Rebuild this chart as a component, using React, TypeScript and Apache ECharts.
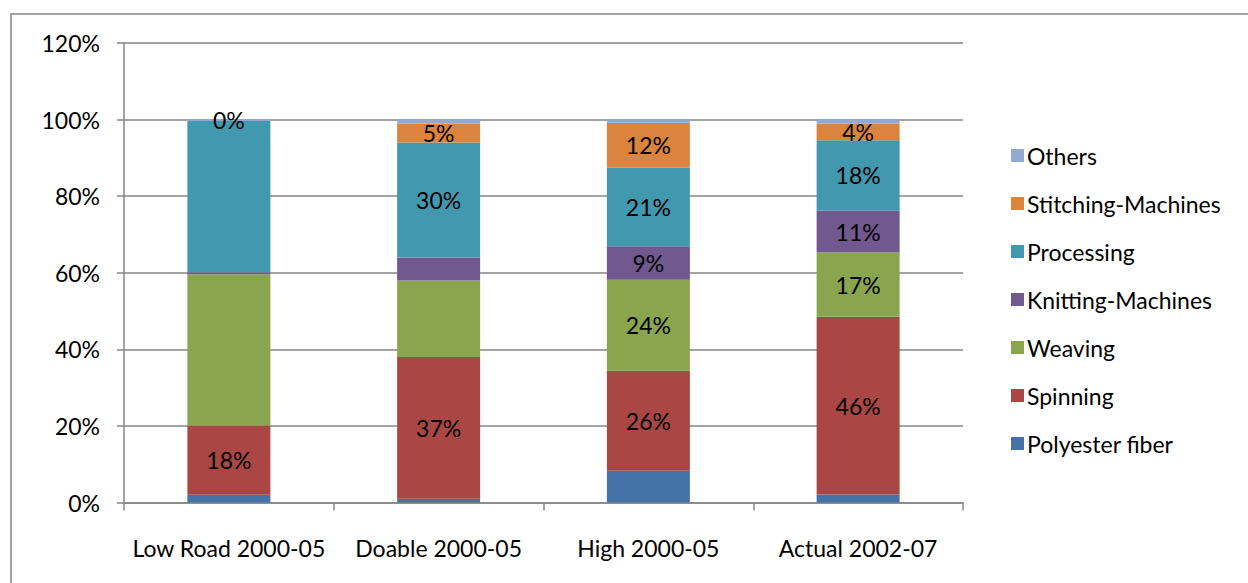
import React, { useEffect, useRef } from "react";
import * as echarts from "echarts";

// Investment share by segment, per scenario (percent of total)
const categories = ["Low Road 2000-05", "Doable 2000-05", "High 2000-05", "Actual 2002-07"];

const polyesterFiber = [2.0, 1.0, 8.3, 2.1];
const spinning = [18.1, 37.0, 26.1, 46.4];
const weaving = [39.5, 20.0, 23.8, 16.8];
const knittingMachines = [0.5, 6.0, 8.7, 10.9];
const processing = [39.5, 30.0, 20.6, 18.4];
const stitchingMachines = [0.0, 5.0, 11.7, 4.4];
const others = [0.4, 1.0, 0.8, 1.0];

// Which segments carry a value label
const labelPolyester = [false, false, false, false];
const labelSpinning = [true, true, true, true];
const labelWeaving = [false, false, true, true];
const labelKnitting = [false, false, true, true];
const labelProcessing = [false, true, true, true];
const labelStitching = [false, true, true, true];
const labelOthers = [true, false, false, false];

const yTicks = [0, 20, 40, 60, 80, 100, 120];

const FONT = "Lato, 'Liberation Sans', sans-serif";
const FS = 23;
const GRAY = "#868686";

const seriesDefs = [
  { name: "Polyester fiber", values: polyesterFiber, labels: labelPolyester, color: "#4572A7" },
  { name: "Spinning", values: spinning, labels: labelSpinning, color: "#AA4643" },
  { name: "Weaving", values: weaving, labels: labelWeaving, color: "#89A54E" },
  { name: "Knitting-Machines", values: knittingMachines, labels: labelKnitting, color: "#71588F" },
  { name: "Processing", values: processing, labels: labelProcessing, color: "#4198AF" },
  { name: "Stitching-Machines", values: stitchingMachines, labels: labelStitching, color: "#DB843D" },
  { name: "Others", values: others, labels: labelOthers, color: "#93A9CF" },
];

export default function App() {
  const ref = useRef<HTMLDivElement>(null);

  useEffect(() => {
    if (!ref.current) return;
    const chart = echarts.init(ref.current, undefined, { renderer: "svg" });
    chart.setOption({
      animation: false,
      backgroundColor: "#ffffff",
      graphic: [
        {
          type: "rect",
          shape: { x: 11, y: 14, width: 1240, height: 600 },
          style: { fill: "none", stroke: GRAY, lineWidth: 1.5 },
          silent: true,
        },
      ],
      grid: { left: 124, right: 285, top: 43, bottom: 80.5 },
      legend: {
        orient: "vertical",
        left: 1006,
        top: 139,
        padding: 5,
        itemWidth: 13,
        itemHeight: 13,
        itemGap: 25,
        icon: "rect",
        data: seriesDefs.map((s) => s.name).reverse(),
        textStyle: {
          fontFamily: FONT,
          fontSize: FS,
          color: "#000",
          padding: [0, 0, 0, -2],
        },
      },
      xAxis: {
        type: "category",
        data: categories,
        boundaryGap: true,
        axisLine: { show: true, lineStyle: { color: GRAY, width: 1.5 } },
        axisTick: { show: true, length: 8, alignWithLabel: false, lineStyle: { color: GRAY, width: 1.5 } },
        axisLabel: { interval: 0, fontFamily: FONT, fontSize: FS, color: "#000", margin: 34 },
      },
      yAxis: {
        type: "value",
        min: yTicks[0],
        max: yTicks[yTicks.length - 1],
        interval: 20,
        axisLine: { show: true, lineStyle: { color: GRAY, width: 1.5 } },
        axisTick: { show: true, length: 7, lineStyle: { color: GRAY, width: 1.5 } },
        splitLine: { show: true, lineStyle: { color: GRAY, width: 1.5 } },
        axisLabel: {
          fontFamily: FONT,
          fontSize: FS,
          color: "#000",
          margin: 24,
          formatter: (v: number) => `${v}%`,
        },
      },
      series: seriesDefs.map((s) => ({
        name: s.name,
        type: "bar",
        stack: "total",
        barWidth: 83,
        itemStyle: { color: s.color },
        label: {
          position: "inside",
          fontFamily: FONT,
          fontSize: FS,
          color: "#000",
          formatter: (p: any) => `${Math.round(p.value)}%`,
        },
        data: s.values.map((v, i) => ({ value: v, label: { show: s.labels[i] } })),
      })),
    });
    return () => chart.dispose();
  }, []);

  return (
    <div
      ref={ref}
      style={{ position: "absolute", left: 0, top: 0, width: 1248, height: 583 }}
    />
  );
}
